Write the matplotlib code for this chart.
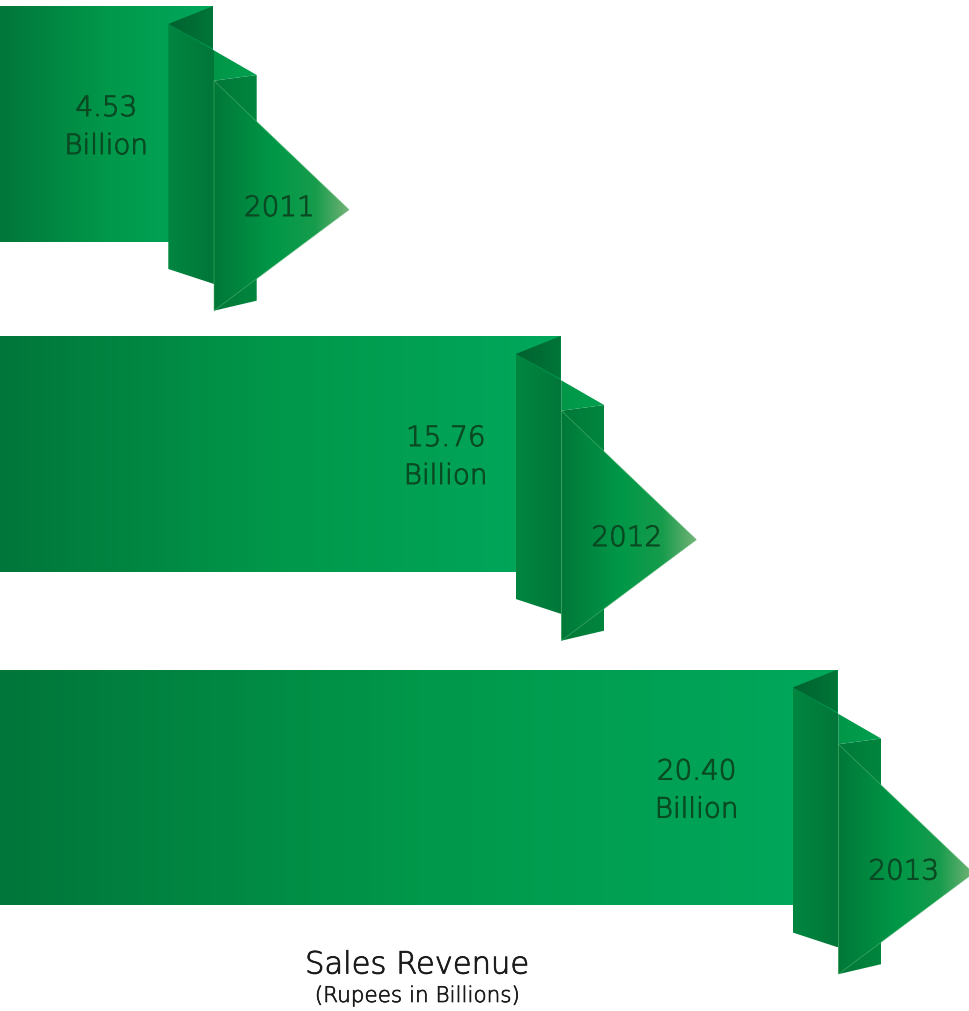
import numpy as np
import matplotlib
matplotlib.use("Agg")
import matplotlib.pyplot as plt
from matplotlib.patches import Polygon
from matplotlib.colors import LinearSegmentedColormap
import matplotlib.patheffects as pe

# ---- data ----
years = ["2011", "2012", "2013"]
revenue = [4.53, 15.76, 20.40]
unit_label = "Billion"
title = "Sales Revenue"
subtitle = "(Rupees in Billions)"

# ---- layout (pixel-like axis units) ----
W, H = 969, 1012
bar_end = [168.3, 515.7, 792.7]     # x where ribbon folds
bar_top = [7.0, 337.0, 670.5]
bar_h = 236.0
value_dx = [-62, -70, -96]

plt.rcParams['font.family'] = ['DejaVu Sans']
FW = 'light'

fig = plt.figure(figsize=(W / 100, H / 100), dpi=100)
ax = fig.add_axes([0, 0, 1, 1])
ax.axis('off')


def cmap_of(stops):
    return LinearSegmentedColormap.from_list(
        'g', [(p, tuple(c / 255 for c in col)) for p, col in stops])


def grad_poly(pts, stops, z, edge=None):
    pts = np.asarray(pts, float)
    poly = Polygon(pts, closed=True, facecolor='none', edgecolor='none', zorder=z)
    ax.add_patch(poly)
    x0, x1 = pts[:, 0].min(), pts[:, 0].max()
    y0, y1 = pts[:, 1].min(), pts[:, 1].max()
    grad = np.linspace(0, 1, 256).reshape(1, -1)
    im = ax.imshow(grad, cmap=cmap_of(stops), extent=(x0, x1, y1, y0),
                   aspect='auto', interpolation='bicubic', zorder=z)
    im.set_clip_path(poly)
    if edge is not None:
        ax.add_patch(Polygon(pts, closed=True, facecolor='none',
                             edgecolor=edge, linewidth=0.6, zorder=z + 0.05))


def label(x, y, s, size, col, stroke=0.7):
    t = ax.text(x, y, s, ha='center', va='center', fontsize=size, color=col,
                fontweight=FW, zorder=10)
    t.set_path_effects([pe.withStroke(linewidth=stroke, foreground=col)])
    return t


bar_stops = [(0, (0, 118, 58)), (0.5, (0, 152, 74)), (1, (0, 168, 92))]
fold_stops = [(0, (0, 98, 48)), (1, (0, 118, 56))]
panel_stops = [(0, (0, 134, 64)), (1, (0, 118, 56))]
strip_stops = [(0, (0, 150, 72)), (1, (0, 160, 78))]
back_stops = [(0, (0, 120, 56)), (1, (0, 134, 62))]
front_stops = [(0, (0, 120, 56)), (0.45, (0, 152, 72)), (0.75, (22, 156, 76)),
               (1, (115, 178, 118))]

txt_col = '#0a4a23'

for i in range(len(years)):
    F, T = bar_end[i], bar_top[i]
    # main bar
    grad_poly([(0, T), (F + 45, T), (F + 45, T + bar_h), (0, T + bar_h)],
              bar_stops, 1)
    # dark fold triangle
    grad_poly([(F, T + 18), (F + 45, T), (F + 45, T + 43)], fold_stops, 2)
    # back panel
    grad_poly([(F + 45.7, T + 74.7), (F + 88.4, T + 69), (F + 88.4, T + 294.7),
               (F + 45.7, T + 304.7)], back_stops, 3)
    # light strip
    grad_poly([(F + 45.7, T + 44.4), (F + 88.4, T + 69), (F + 45.7, T + 74.7)],
              strip_stops, 3)
    # vertical panel
    grad_poly([(F, T + 18), (F + 45.7, T + 44.4), (F + 45.7, T + 278),
               (F, T + 263)], panel_stops, 4)
    # front arrow triangle
    grad_poly([(F + 45.7, T + 74.7), (F + 180.7, T + 203.7), (F + 45.7, T + 304.7)],
              front_stops, 5, edge=(0.35, 0.72, 0.45, 0.6))

    label(F + value_dx[i], T + 102, f"{revenue[i]:.2f}", 20, txt_col)
    label(F + value_dx[i], T + 140, unit_label, 20, txt_col)
    label(F + 111, T + 202, years[i], 20, txt_col)

label(417, 966, title, 22, '#1a1a1a', 0.6)
label(417, 997, subtitle, 15.5, '#1a1a1a', 0.5)

ax.set_xlim(0, W)
ax.set_ylim(H, 0)
fig.savefig("out.png", dpi=100, facecolor='white')
